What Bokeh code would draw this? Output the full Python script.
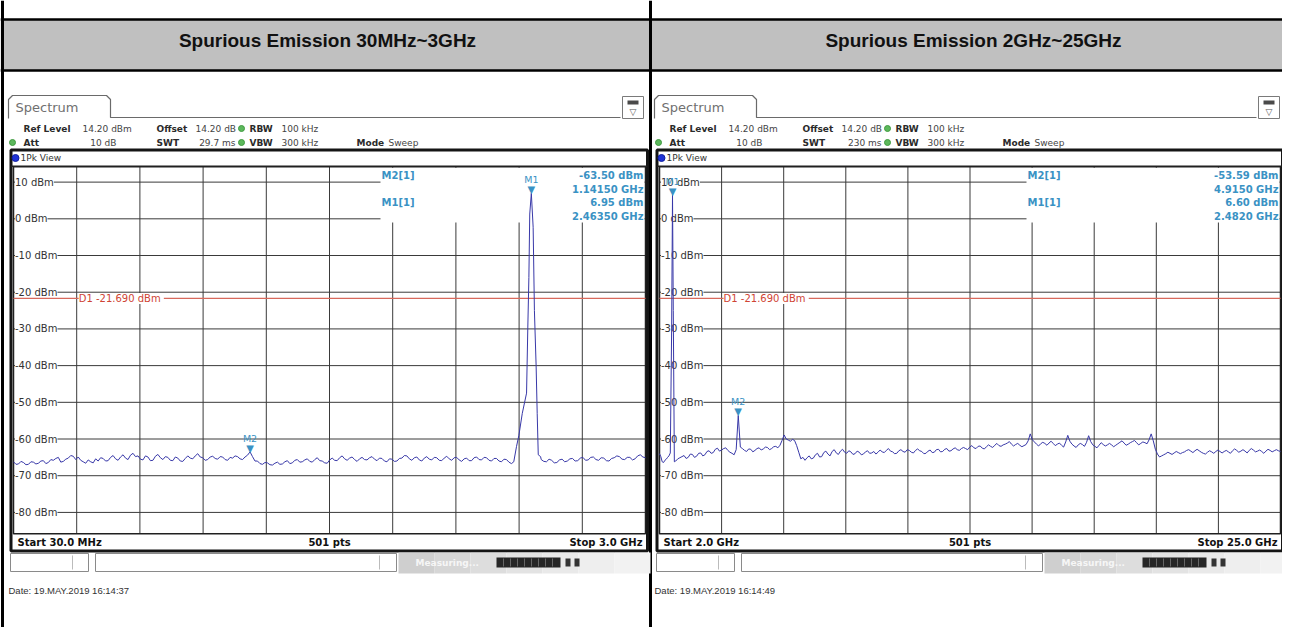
import numpy as np
from bokeh.plotting import figure
from bokeh.models import Range1d
from bokeh.core.properties import value
from bokeh.embed import file_html
from bokeh.resources import INLINE

# ---------------- data ----------------
panel_titles = ["Spurious Emission 30MHz~3GHz", "Spurious Emission 2GHz~25GHz"]
start_freq_ghz = [0.03, 2.0]
stop_freq_ghz = [3.0, 25.0]
start_labels = ["Start 30.0 MHz", "Start 2.0 GHz"]
stop_labels = ["Stop 3.0 GHz", "Stop 25.0 GHz"]
points_label = "501 pts"
swt_labels = ["29.7 ms", "230 ms"]
date_labels = ["Date: 19.MAY.2019  16:14:37", "Date: 19.MAY.2019  16:14:49"]
ref_level_dbm = 14.2
display_line_dbm = -21.69
display_line_label = "D1  -21.690 dBm"
y_tick_dbm = [10, 0, -10, -20, -30, -40, -50, -60, -70, -80]
y_tick_labels = ["10 dBm", "0 dBm", "-10 dBm", "-20 dBm", "-30 dBm",
                 "-40 dBm", "-50 dBm", "-60 dBm", "-70 dBm", "-80 dBm"]

m1_freq = [2.4635, 2.482]
m1_level = [6.95, 6.60]
m2_freq = [1.1415, 4.915]
m2_level = [-63.50, -53.59]
m1_level_text = ["6.95 dBm", "6.60 dBm"]
m1_freq_text = ["2.46350 GHz", "2.4820 GHz"]
m2_level_text = ["-63.50 dBm", "-53.59 dBm"]
m2_freq_text = ["1.14150 GHz", "4.9150 GHz"]

# left trace: noise 0.03-2.37 GHz (201 pts), carrier, noise 2.51-3.0 GHz
left_noise_a = [
    -66.2, -66.9, -66.8, -66.1, -66.4, -67.0, -66.9, -66.2, -66.3, -66.8,
    -66.6, -66.0, -65.9, -66.7, -66.4, -65.6, -65.8, -65.3, -65.0, -66.3,
    -66.1, -65.5, -65.2, -64.5, -64.7, -65.6, -64.9, -65.8, -66.2, -66.6,
    -65.7, -66.2, -66.5, -65.4, -66.0, -65.1, -65.3, -66.0, -65.9, -65.0,
    -64.5, -65.4, -65.8, -64.9, -64.3, -65.2, -65.6, -64.4, -63.9, -64.8,
    -64.6, -65.5, -65.7, -64.6, -64.9, -65.9, -65.8, -64.7, -64.2, -65.1,
    -65.6, -64.8, -65.0, -65.8, -65.9, -64.9, -65.2, -66.0, -66.1, -65.3,
    -64.6, -65.2, -65.4, -64.6, -64.0, -64.9, -65.1, -65.8, -65.6, -64.9,
    -64.7, -65.3, -65.5, -64.8, -64.9, -65.6, -65.8, -65.0, -65.2, -64.6,
    -64.8, -65.4, -65.6, -64.9, -64.4, -63.5, -64.8, -66.0, -66.0, -66.7,
    -66.9, -66.4, -66.5, -67.0, -67.1, -66.6, -66.3, -66.9, -66.8, -66.2,
    -65.9, -66.7, -66.5, -65.8, -65.6, -66.3, -66.2, -65.7, -65.4, -66.1,
    -66.3, -65.6, -65.1, -65.9, -66.0, -66.5, -66.6, -65.7, -65.2, -65.8,
    -65.9, -65.1, -64.6, -65.4, -65.8, -65.2, -64.9, -65.6, -66.1, -65.4,
    -65.0, -65.6, -65.7, -65.1, -64.8, -65.5, -65.9, -65.2, -65.3, -66.0,
    -66.2, -65.4, -65.5, -66.1, -66.0, -65.3, -65.2, -64.5, -64.6, -65.4,
    -65.8, -65.1, -64.9, -65.7, -66.0, -65.2, -64.8, -65.5, -65.7, -65.0,
    -65.1, -65.8, -65.9, -65.2, -64.7, -65.4, -65.8, -65.1, -65.0, -65.7,
    -66.1, -65.4, -65.2, -65.9, -65.9, -65.1, -64.9, -65.6, -65.7, -65.0,
    -65.1, -65.8, -66.0, -65.3, -65.3, -66.0, -66.2, -65.5, -65.6, -66.3,
    -66.7]
left_peak_freq = [2.381, 2.394, 2.405, 2.421, 2.441, 2.447, 2.452, 2.456,
                  2.4635, 2.472, 2.478, 2.486, 2.491, 2.496, 2.507]
left_peak_level = [-66.2, -62.0, -59.0, -53.0, -47.5, -29.5, -16.0, 1.3,
                   6.95, -2.3, -25.0, -40.0, -53.0, -64.3, -64.8]
left_noise_b = [
    -65.6, -66.1, -66.2, -65.5, -65.8, -66.5, -66.4, -65.7, -65.5, -66.2,
    -66.0, -65.4, -65.3, -66.0, -65.9, -65.2, -65.0, -65.8, -65.7, -65.0,
    -64.9, -65.6, -65.8, -65.1, -65.2, -65.9, -66.0, -65.3, -65.1, -64.6,
    -64.8, -65.5, -65.6, -65.0, -65.0, -65.7, -65.4, -64.6, -64.3, -64.9, -65.1]

# right trace: start + carrier 2.0-2.55 GHz, then noise 2.6-25 GHz (291 pts)
right_start_freq = [2.0, 2.05, 2.10, 2.15, 2.20, 2.25, 2.30, 2.35, 2.40, 2.45, 2.482, 2.51, 2.55]
right_start_level = [-64.0, -64.8, -66.2, -66.4, -65.8, -65.5, -65.0, -64.6, -63.8,
                     -30.0, 6.60, -25.0, -66.2]
right_noise = [
    -66.0, -65.4, -65.1, -64.8, -64.5, -65.3, -65.0, -64.1, -64.2, -65.0,
    -64.7, -63.9, -63.8, -64.6, -64.3, -63.4, -63.2, -63.9, -63.7, -62.8,
    -62.5, -63.3, -63.0, -62.6, -62.4, -63.1, -63.6, -63.9, -64.3, -62.9,
    -53.59, -62.2, -62.6, -63.1, -63.4, -62.7, -62.8, -63.5, -63.1, -62.6,
    -62.4, -63.0, -62.7, -62.2, -62.3, -62.9, -62.6, -62.1, -62.0, -62.4,
    -61.7, -60.4, -58.9, -60.0, -60.3, -60.6, -60.1, -60.4, -61.8, -63.6,
    -65.4, -65.0, -65.8, -65.1, -64.6, -65.4, -65.2, -64.3, -63.9, -64.9,
    -64.8, -63.7, -63.3, -64.1, -64.6, -63.4, -62.9, -63.8, -64.2, -63.3,
    -62.8, -63.6, -63.9, -63.2, -63.5, -64.2, -64.0, -63.3, -63.6, -64.3,
    -64.1, -63.5, -63.2, -63.9, -63.8, -63.4, -64.1, -63.6, -63.0, -63.5,
    -63.7, -63.1, -62.6, -63.3, -63.5, -64.0, -63.9, -63.2, -62.9, -63.4,
    -63.6, -62.9, -63.1, -63.6, -63.8, -63.1, -62.7, -63.2, -63.4, -64.0,
    -63.9, -63.3, -63.0, -63.7, -63.6, -62.9, -62.8, -63.5, -63.4, -62.8,
    -62.6, -63.3, -63.2, -62.7, -62.4, -62.9, -63.1, -62.6, -62.3, -62.6,
    -62.9, -62.2, -61.8, -62.4, -62.6, -62.0, -61.9, -62.5, -62.7, -62.1,
    -61.6, -62.0, -62.3, -61.7, -61.2, -61.8, -62.0, -61.6, -61.4, -61.1,
    -60.7, -61.4, -61.9, -61.5, -61.2, -61.7, -62.1, -61.8, -61.5, -60.5,
    -58.6, -60.2, -60.8, -61.4, -61.9, -61.3, -60.9, -61.2, -61.7, -61.1,
    -60.6, -61.2, -61.8, -61.4, -61.1, -61.7, -62.2, -60.8, -59.0, -60.6,
    -61.4, -61.9, -62.3, -61.6, -61.2, -61.5, -62.0, -60.9, -59.1, -60.7,
    -61.6, -62.0, -62.4, -61.7, -61.0, -61.5, -61.9, -61.6, -61.2, -61.6,
    -62.1, -61.7, -61.3, -60.9, -60.5, -61.1, -61.7, -61.4, -61.0, -60.7,
    -60.4, -61.0, -61.6, -61.2, -60.8, -61.0, -61.3, -60.2, -58.6, -60.5,
    -62.8, -64.1, -64.9, -64.6, -64.3, -64.0, -63.6, -63.9, -64.2, -63.8,
    -63.4, -63.7, -64.0, -63.7, -63.5, -63.1, -62.9, -63.3, -63.7, -63.2,
    -62.8, -63.2, -63.6, -63.9, -64.1, -63.6, -63.2, -63.5, -63.9, -63.4,
    -63.0, -63.4, -63.8, -63.4, -63.1, -63.5, -63.9, -63.2, -62.7, -63.1,
    -63.6, -63.3, -62.9, -63.3, -63.8, -63.1, -62.6, -63.0, -63.5, -63.3,
    -63.0, -63.4, -63.9, -63.3, -62.8, -63.1, -63.5, -63.2, -62.9, -63.2,
    -63.4]

trace_freq = [
    np.concatenate([np.linspace(0.03, 2.37, len(left_noise_a)), left_peak_freq,
                    np.linspace(2.51, 3.0, len(left_noise_b))]),
    np.concatenate([right_start_freq, np.linspace(2.6, 25.0, len(right_noise))]),
]
trace_level = [
    np.concatenate([left_noise_a, left_peak_level, left_noise_b]),
    np.concatenate([right_start_level, right_noise]),
]

# ---------------- layout / style ----------------
PANEL_DX = [0, 646]
GRID_L = [13, 659]
GRID_R = [645, 1280]
FRAME_R = [647, 1282]
ICON_R = [643, 1279]
GRID_T = 166.2
GRID_B = 533.2
X0, X1, Y0, Y1 = 0, 1282, 0, 627

GRID_C = "#3a3a3a"
TRACE_C = "#3838a8"
MARK_C = "#3a92c4"
D1_LINE_C = "#d8695c"
D1_TEXT_C = "#cf4434"
TXT_C = "#2a2a2a"
UI = "DejaVu Sans"
ARIAL = "Liberation Sans"

p = figure(width=X1 - X0, height=Y1 - Y0, x_range=Range1d(X0, X1), y_range=Range1d(Y1, Y0),
           x_axis_type=None, y_axis_type=None, output_backend="svg", toolbar_location=None,
           min_border=0, outline_line_color=None, background_fill_color="white",
           border_fill_color="white")
p.grid.visible = False

for k in range(2):
    f0, f1 = start_freq_ghz[k], stop_freq_ghz[k]
    gx = (f1 - f0) / (GRID_R[k] - GRID_L[k])
    gy = 100.0 / (GRID_B - GRID_T)
    p.extra_x_ranges[f"f{k}"] = Range1d(f0 - (GRID_L[k] - X0) * gx, f1 + (X1 - GRID_R[k]) * gx)
    p.extra_y_ranges[f"d{k}"] = Range1d(ref_level_dbm - 100 - (Y1 - GRID_B) * gy,
                                        ref_level_dbm + (GRID_T - Y0) * gy)


def _aslist(v):
    return list(v) if isinstance(v, (list, tuple, np.ndarray)) else None


def T(x, y, s, size=9, color=TXT_C, bold=False, align="left", base="middle", font=UI, **kw):
    lx, ly = _aslist(x), _aslist(y)
    ls = list(s) if isinstance(s, (list, tuple)) else None
    lens = [len(v) for v in (lx, ly, ls) if v is not None]
    n = max(lens) if lens else 1
    xs = lx if lx is not None else [x] * n
    ys = ly if ly is not None else [y] * n
    ss = ls if ls is not None else [s] * n
    return p.text(x=xs, y=ys, text=ss, text_font=value(font), text_font_size=f"{size}px",
                  text_font_style="bold" if bold else "normal", text_color=color,
                  text_align=align, text_baseline=base, **kw)


# ---------------- table / headers ----------------
p.quad(left=[0, 651], right=[649, 1298], top=[19, 19], bottom=[70, 70],
       fill_color="#c0c0c0", line_color=None)
p.segment(x0=[0, 0], x1=[1298, 1298], y0=[19, 70], y1=[19, 70], line_color="black", line_width=2.5)
p.segment(x0=[650, 2], x1=[650, 2], y0=[0, 0], y1=[643, 643], line_color="black", line_width=3)
T([327, 973], 40, panel_titles, size=19, color="#111111", bold=True, align="center", font=ARIAL)

# ---------------- panels ----------------
for k in range(2):
    ox = PANEL_DX[k]
    fr, dr = f"f{k}", f"d{k}"
    gl, gr = GRID_L[k], GRID_R[k]
    f0, f1 = start_freq_ghz[k], stop_freq_ghz[k]
    ir = ICON_R[k]

    # tab + toolbar line
    p.line([ox + 8, ox + 8, ox + 12, ox + 106, ox + 110, ox + 110, ir - 23],
           [118, 99, 95, 95, 99, 117, 117], line_color="#6a6a6a", line_width=1.2)
    T(ox + 15, 107, "Spectrum", size=13, color="#707070")
    p.quad(left=ir - 21, right=ir, top=96, bottom=118, fill_color="white",
           line_color="#7a7a7a", line_width=1)
    p.quad(left=ir - 16, right=ir - 5, top=100, bottom=104, fill_color="#4a4a4a", line_color=None)
    T(ir - 10.5, 111, "\u25BD", size=9, color="#555555", align="center")

    # setting rows
    T([ox + 23, ox + 156, ox + 249], 128, ["Ref Level", "Offset", "RBW"], bold=True)
    T([ox + 82, ox + 195, ox + 281], 128, ["14.20 dBm", "14.20 dB", "100 kHz"], color="#444444")
    T([ox + 23, ox + 156, ox + 249, ox + 356], 142, ["Att", "SWT", "VBW", "Mode"], bold=True)
    T([ox + 116, ox + 235], 142, ["10 dB", swt_labels[k]], color="#444444", align="right")
    T([ox + 281, ox + 388], 142, ["300 kHz", "Sweep"], color="#444444")
    p.scatter([ox + 241, ox + 241, ox + 12], [128, 142, 142], size=6, marker="circle",
              fill_color="#5cb85c", line_color="#3f9a3f")

    # window frame
    p.quad(left=ox + 10.5, right=FRAME_R[k], top=149.5, bottom=550.5, fill_color=None,
           line_color="#151515", line_width=3)
    p.scatter([ox + 15], [157.5], size=7, marker="circle", fill_color="#1f33d6", line_color="#1020a0")
    T(ox + 20, 157.5, "1Pk View", size=9, color="#333333")

    # grid
    vf = [f0 + i * (f1 - f0) / 10 for i in range(1, 10)]
    p.segment(x0=vf, x1=vf, y0=[ref_level_dbm] * 9, y1=[ref_level_dbm - 100] * 9,
              x_range_name=fr, y_range_name=dr, line_color=GRID_C, line_width=1)
    p.segment(x0=[gl] * len(y_tick_dbm), x1=[gr] * len(y_tick_dbm), y0=y_tick_dbm, y1=y_tick_dbm,
              y_range_name=dr, line_color=GRID_C, line_width=1)
    # marker-table area
    p.quad(left=gl + 367, right=gr - 1, top=GRID_T + 1, bottom=222, fill_color="white", line_color=None)
    p.quad(left=[f0], right=[f1], bottom=[ref_level_dbm - 100], top=[ref_level_dbm],
           x_range_name=fr, y_range_name=dr, fill_color=None, line_color="#202020", line_width=1.5)
    p.segment(x0=[ox + 10.5], x1=[FRAME_R[k]], y0=[GRID_T - 0.5], y1=[GRID_T - 0.5], line_color="#202020",
              line_width=1.5)

    # level labels
    T(gl + 1.5, y_tick_dbm, y_tick_labels, size=10, color="#333333", y_range_name=dr,
      background_fill_color="white")

    # display line
    p.segment(x0=[f0], x1=[f1], y0=[display_line_dbm], y1=[display_line_dbm],
              x_range_name=fr, y_range_name=dr, line_color=D1_LINE_C, line_width=1.2)
    T(f0 + (f1 - f0) / 10, display_line_dbm, display_line_label, size=10, color=D1_TEXT_C,
      x_range_name=fr, y_range_name=dr, x_offset=2, background_fill_color="white")

    # trace
    p.line(trace_freq[k], trace_level[k], x_range_name=fr, y_range_name=dr,
           line_color=TRACE_C, line_width=1)

    # markers
    mf = [m1_freq[k], m2_freq[k]]
    ml = [m1_level[k], m2_level[k]]
    T(mf, ml, ["\u25BC", "\u25BC"], size=10, color=MARK_C, align="center", base="bottom",
      x_range_name=fr, y_range_name=dr, y_offset=2)
    T(mf, ml, ["M1", "M2"], size=9.5, color=MARK_C, align="center", base="bottom",
      x_range_name=fr, y_range_name=dr, y_offset=-8)

    # marker table
    T([gl + 368, gl + 368], [175, 202], ["M2[1]", "M1[1]"], size=10, color=MARK_C, bold=True)
    T([gr - 2] * 4, [175, 188.5, 202, 215.5],
      [m2_level_text[k], m2_freq_text[k], m1_level_text[k], m1_freq_text[k]],
      size=10, color=MARK_C, bold=True, align="right")

    # bottom bar
    T(ox + 17, 541.5, start_labels[k], size=10, bold=True, color="#111111")
    T((gl + gr) / 2, 541.5, points_label, size=10, bold=True, color="#111111", align="center")
    T(gr - 3, 541.5, stop_labels[k], size=10, bold=True, color="#111111", align="right")

    # status bar
    shades = ["#cfcfcf", "#d6d6d6", "#dddddd", "#e3e3e3", "#e9e9e9", "#eeeeee", "#f2f2f2"]
    for i, c in enumerate(shades):
        p.quad(left=ox + 398 + i * 36, right=ox + 398 + (i + 1) * 36, top=552, bottom=573,
               fill_color=c, line_color=None)
    p.quad(left=[ox + 10, ox + 95], right=[ox + 88, ox + 396], top=[553, 553], bottom=[571, 571],
           fill_color="white", line_color="#8a8a8a", line_width=1)
    p.segment(x0=[ox + 72, ox + 379], x1=[ox + 72, ox + 379], y0=[555, 555], y1=[569, 569],
              line_color="#bbbbbb", line_width=1)
    T(ox + 415, 562, "Measuring...", size=9, color="#f6f6f6", bold=True)
    p.quad(left=ox + 496, right=ox + 560, top=557, bottom=567, fill_color="#262626", line_color=None)
    p.segment(x0=[ox + 503 + 7 * i for i in range(8)], x1=[ox + 503 + 7 * i for i in range(8)],
              y0=[558] * 8, y1=[566] * 8, line_color="#777777", line_width=0.8)
    p.quad(left=[ox + 565, ox + 574], right=[ox + 570, ox + 579], top=[558, 558], bottom=[566, 566],
           fill_color="#333333", line_color=None)

    # date
    T(ox + 8, 590, date_labels[k], size=9.5, color="#333333", font=ARIAL)

open("out.html", "w").write(file_html(p, INLINE))
